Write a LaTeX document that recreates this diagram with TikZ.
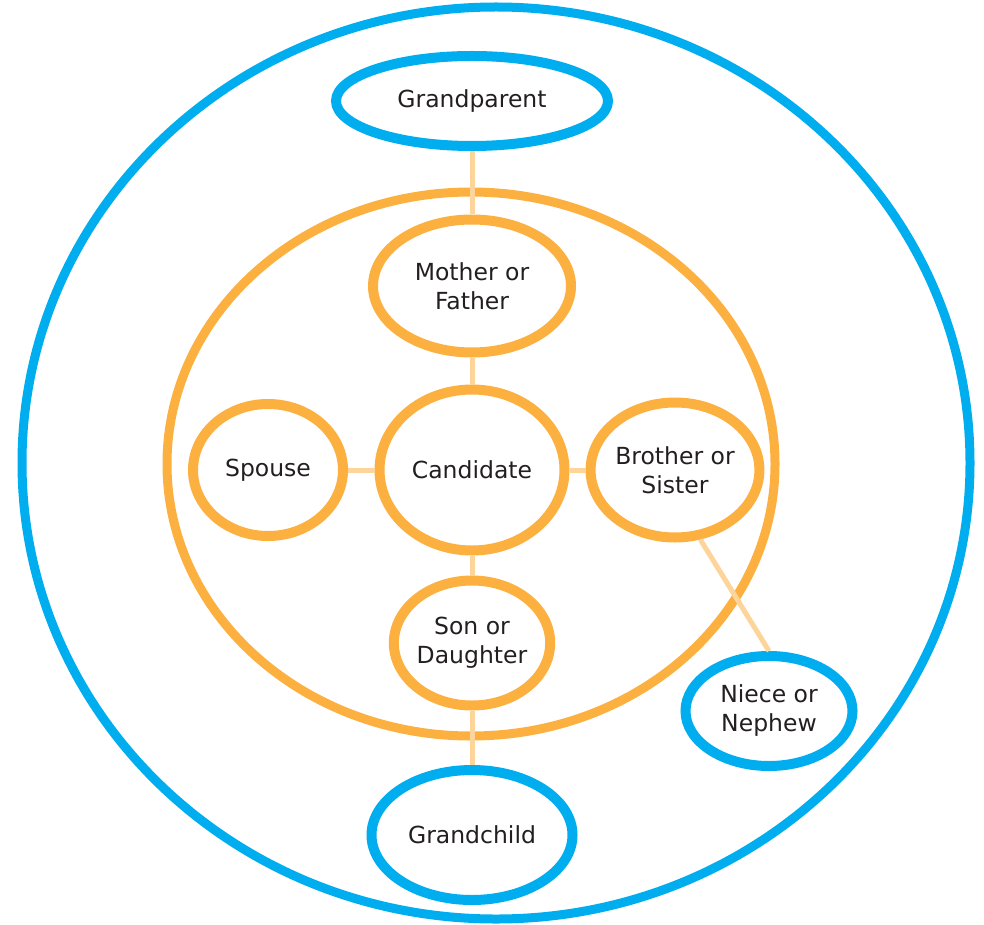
\documentclass[tikz,border=0pt]{standalone}
\usepackage{fontspec}
\setmainfont{DejaVu Sans}
\usetikzlibrary{shapes.geometric}
\definecolor{kinblue}{HTML}{00AEEF}
\definecolor{kinorange}{HTML}{FBB040}
\definecolor{kinline}{HTML}{FDD49A}
\definecolor{kintext}{HTML}{231F20}

\begin{document}
\begin{tikzpicture} [x=1pt, y=-1pt,
  kin/.style={ellipse, draw, line width=10pt, inner sep=0, align=center,
    text=kintext, font=\fontsize{23.5}{29}\selectfont},
  near/.style={kin, draw=kinorange},
  far/.style={kin, draw=kinblue},
  link/.style={kinline, line width=5pt}]
\useasboundingbox (0,0) rectangle (984,925);
% the two rings
\draw[kinblue, line width=9pt] (496,463) ellipse [x radius=474, y radius=456];
\draw[kinorange, line width=9pt] (471,464) ellipse [x radius=304, y radius=272];
% relatives
\node[far, minimum width=272, minimum height=90] (gp) at (472,101) {Grandparent};
\node[near, minimum width=198, minimum height=133] (parent) at (472,286) {Mother or\\Father};
\node[near, minimum width=185, minimum height=161] (cand) at (472,470) {Candidate};
\node[near, minimum width=150, minimum height=132] (spouse) at (268,470) {Spouse};
\node[near, minimum width=154, minimum height=135] (sib) at (675,470) {Brother or\\Sister};
\node[near, minimum width=150, minimum height=125] (child) at (472,643) {Son or\\Daughter};
\node[far, minimum width=167, minimum height=110] (niece) at (769,711) {Niece or\\Nephew};
\node[far, minimum width=201, minimum height=130] (gchild) at (472,835) {Grandchild};
% links
\draw[link] (gp.south) -- (parent.north);
\draw[link] (parent.south) -- (cand.north);
\draw[link] (spouse.east) -- (cand.west);
\draw[link] (cand.east) -- (sib.west);
\draw[link] (cand.south) -- (child.north);
\draw[link] (child.south) -- (gchild.north);
\draw[link] (sib.-70) -- (niece.north);
\end{tikzpicture}
\end{document}
